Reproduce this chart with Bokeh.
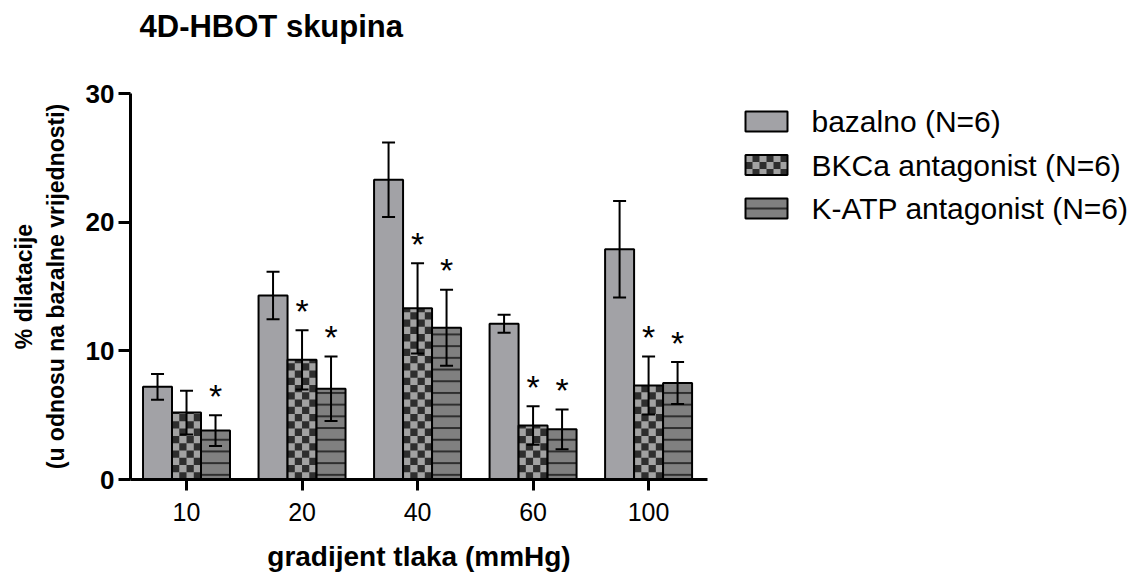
import math
from bokeh.plotting import figure
from bokeh.layouts import row
from bokeh.models import ColumnDataSource, Range1d, FixedTicker, Whisker, TeeHead, Title
from bokeh.core.properties import value
from bokeh.embed import file_html
from bokeh.resources import INLINE

# ---- data ----
categories = ["10", "20", "40", "60", "100"]
series_names = ["bazalno (N=6)", "BKCa antagonist (N=6)", "K-ATP antagonist (N=6)"]
bazalno = [7.2, 14.3, 23.3, 12.1, 17.9]
bazalno_err = [1.0, 1.85, 2.9, 0.7, 3.75]
bkca = [5.2, 9.3, 13.3, 4.2, 7.3]
bkca_err = [1.7, 2.3, 3.5, 1.5, 2.25]
katp = [3.8, 7.05, 11.8, 3.9, 7.5]
katp_err = [1.2, 2.5, 2.95, 1.55, 1.63]
bazalno_sig = [False, False, False, False, False]
bkca_sig = [False, True, True, True, True]
katp_sig = [True, True, True, True, True]
y_ticks = [0, 10, 20, 30]

# ---- styling ----
FONT = "Liberation Sans"
BAR_W = 0.251
offsets = [-BAR_W, 0.0, BAR_W]
LIGHT = "#a2a2a6"
CHECK_LIGHT = "#a2a2a2"
DARK = "#2e2e2e"
MID = "#808080"
CHECK_COLS = 4          # checker squares across a bar
CHECK_H = 0.565         # checker square height in data units (~7 px)

TOTAL_W, TOTAL_H = 1140, 574
P1_W = 715
B_TOP, B_BOTTOM = 93, 95
FRAME_TOP, FRAME_BOTTOM = B_TOP, TOTAL_H - B_BOTTOM


def checker_cells(lefts, rights, bottoms, tops, ncols, cell_h):
    out = dict(left=[], right=[], bottom=[], top=[])
    for l, r, b, t in zip(lefts, rights, bottoms, tops):
        cw = (r - l) / ncols
        nrows = int(math.ceil((t - b) / cell_h - 1e-9))
        for i in range(nrows):
            y0 = b + i * cell_h
            y1 = min(t, y0 + cell_h)
            for c in range(ncols):
                if (i + c) % 2 == 1:
                    out["left"].append(l + c * cw)
                    out["right"].append(l + (c + 1) * cw)
                    out["bottom"].append(y0)
                    out["top"].append(y1)
    return out


# ---- main chart ----
p = figure(width=P1_W, height=TOTAL_H, x_range=Range1d(-0.485, 4.51),
           y_range=Range1d(0, 30), output_backend="svg", toolbar_location=None,
           title_location=None,
           min_border_left=130, min_border_right=8, min_border_top=B_TOP,
           min_border_bottom=B_BOTTOM)
p.outline_line_color = None
p.grid.visible = False
p.background_fill_color = "white"
p.border_fill_color = "white"

# spacer (closest to the frame) then the visible title above it
p.add_layout(Title(text=" ", text_font_size="12px", standoff=34), "above")
p.add_layout(Title(text="4D-HBOT skupina", text_font=FONT, text_font_size="31px",
                   text_font_style="bold", text_color="black", align="left",
                   offset=9, standoff=0), "above")

values = [bazalno, bkca, katp]
errors = [bazalno_err, bkca_err, katp_err]
sigs = [bazalno_sig, bkca_sig, katp_sig]

for i in range(3):
    xs = [j + offsets[i] for j in range(len(categories))]
    src = ColumnDataSource(dict(
        x=xs, top=values[i],
        upper=[v + e for v, e in zip(values[i], errors[i])],
        lower=[v - e for v, e in zip(values[i], errors[i])],
    ))
    if i == 0:
        p.vbar(x="x", top="top", width=BAR_W, bottom=0, source=src,
               fill_color=LIGHT, line_color="black", line_width=2)
    elif i == 1:
        p.vbar(x="x", top="top", width=BAR_W, bottom=0, source=src,
               fill_color=CHECK_LIGHT, line_color=None)
        cells = checker_cells([x - BAR_W / 2 for x in xs], [x + BAR_W / 2 for x in xs],
                              [0] * len(xs), values[i], CHECK_COLS, CHECK_H)
        p.quad(source=ColumnDataSource(cells), left="left", right="right",
               bottom="bottom", top="top", fill_color=DARK, line_color=None)
        p.vbar(x="x", top="top", width=BAR_W, bottom=0, source=src,
               fill_color=None, line_color="black", line_width=2)
    else:
        p.vbar(x="x", top="top", width=BAR_W, bottom=0, source=src,
               fill_color=MID, hatch_pattern="horizontal_line", hatch_color=DARK,
               hatch_scale=11.7, hatch_weight=2, line_color="black", line_width=2)
    w = Whisker(source=src, base="x", upper="upper", lower="lower",
                line_color="black", line_width=2, level="overlay",
                upper_head=TeeHead(size=13, line_width=2, line_color="black"),
                lower_head=TeeHead(size=13, line_width=2, line_color="black"))
    p.add_layout(w)
    sx = [x for x, s in zip(xs, sigs[i]) if s]
    sy = [v + e + 1.5 for v, e, s in zip(values[i], errors[i], sigs[i]) if s]
    p.text(x=sx, y=sy, text=["*"] * len(sx), text_align="center", text_baseline="middle",
           text_font=value(FONT), text_font_size="34px", text_color="black")

for ax in (p.xaxis[0], p.yaxis[0]):
    ax.axis_line_width = 3
    ax.major_tick_line_width = 3
    ax.minor_tick_line_color = None
    ax.major_tick_in = 0
    ax.axis_label_text_font = FONT
    ax.axis_label_text_font_style = "bold"
    ax.major_label_text_font = FONT
    ax.major_label_text_color = "black"
    ax.axis_label_text_color = "black"

p.xaxis.ticker = FixedTicker(ticks=list(range(len(categories))))
p.xaxis.major_label_overrides = {j: c for j, c in enumerate(categories)}
p.xaxis.major_tick_out = 11
p.xaxis.major_label_text_font_size = "25px"
p.xaxis.major_label_standoff = 12
p.xaxis.axis_label = "gradijent tlaka (mmHg)"
p.xaxis.axis_label_text_font_size = "28px"
p.xaxis.axis_label_standoff = 17

p.yaxis.ticker = FixedTicker(ticks=y_ticks)
p.yaxis.major_tick_out = 12
p.yaxis.major_label_text_font_size = "26px"
p.yaxis.major_label_text_font_style = "bold"
p.yaxis.major_label_standoff = 4
p.yaxis.axis_label = "% dilatacije\n(u odnosu na bazalne vrijednosti)"
p.yaxis.axis_label_text_font_size = "23px"
p.yaxis.axis_label_standoff = 14

# ---- legend panel: frame aligned with the chart frame, data units = page pixels ----
lg = figure(width=TOTAL_W - P1_W, height=TOTAL_H,
            x_range=Range1d(P1_W, TOTAL_W), y_range=Range1d(FRAME_BOTTOM, FRAME_TOP),
            output_backend="svg", toolbar_location=None, title_location=None,
            x_axis_type=None, y_axis_type=None,
            min_border_left=0, min_border_right=0, min_border_top=B_TOP,
            min_border_bottom=B_BOTTOM)
lg.outline_line_color = None
lg.grid.visible = False
lg.background_fill_color = "white"
lg.border_fill_color = "white"

LEG_X, LEG_W, LEG_Y, LEG_H, LEG_DY = 745, 42, 111, 20, 43.5
rows_top = [LEG_Y + k * LEG_DY for k in range(3)]
rows_bot = [t + LEG_H for t in rows_top]
rows_mid = [(t + b) / 2 for t, b in zip(rows_top, rows_bot)]
fills = [LIGHT, CHECK_LIGHT, MID]
lg.quad(left=[LEG_X] * 3, right=[LEG_X + LEG_W] * 3, top=rows_top, bottom=rows_bot,
        fill_color=fills, line_color=None)
cells = checker_cells([LEG_X], [LEG_X + LEG_W], [rows_top[1]], [rows_bot[1]], 6, 7)
lg.quad(source=ColumnDataSource(cells), left="left", right="right", bottom="bottom",
        top="top", fill_color=DARK, line_color=None)
lg.segment(x0=[LEG_X], x1=[LEG_X + LEG_W], y0=[rows_mid[2]], y1=[rows_mid[2]],
           line_color=DARK, line_width=2)
lg.quad(left=[LEG_X] * 3, right=[LEG_X + LEG_W] * 3, top=rows_top, bottom=rows_bot,
        fill_color=None, line_color="black", line_width=2)
lg.text(x=[811] * 3, y=rows_mid, text=series_names, text_font=value(FONT),
        text_font_size="30px", text_color="black", text_align="left",
        text_baseline="middle")

layout = row(p, lg)
open("out.html", "w").write(file_html(layout, INLINE))
